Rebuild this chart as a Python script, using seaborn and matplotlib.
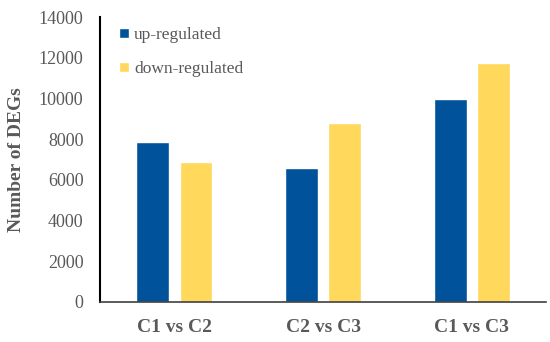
import matplotlib.pyplot as plt
import seaborn as sns
import pandas as pd

comparisons = ["C1 vs C2", "C2 vs C3", "C1 vs C3"]
up_regulated = [7880, 6600, 9980]
down_regulated = [6900, 8820, 11720]

data = pd.DataFrame({
    "Comparison": comparisons * 2,
    "Regulation": ["up-regulated"] * 3 + ["down-regulated"] * 3,
    "DEGs": up_regulated + down_regulated,
})

sns.set_style("white")
plt.rcParams["font.family"] = ["Liberation Serif", "DejaVu Serif"]

gray = "#595959"
fig = plt.figure(figsize=(5.5, 3.42), dpi=100)
ax = fig.add_axes([0.182, 0.117, 0.811, 0.833])

sns.barplot(data=data, x="Comparison", y="DEGs", hue="Regulation",
            palette=["#00539B", "#FFD85C"], width=0.58, gap=0.24,
            saturation=1, ax=ax)

ax.set_ylim(0, 14000)
ax.set_xlim(-0.5, 2.5)
ax.set_yticks(range(0, 14001, 2000))
ax.set_xlabel("")
ax.set_ylabel("Number of DEGs", fontsize=14, fontweight="bold", color=gray, labelpad=10)
ax.tick_params(axis="y", labelsize=13, labelcolor=gray, length=0, pad=12)
ax.tick_params(axis="x", labelsize=14, labelcolor=gray, length=0, pad=12)
for lab in ax.get_xticklabels():
    lab.set_fontweight("bold")

for side in ["top", "right"]:
    ax.spines[side].set_visible(False)
ax.spines["left"].set_color("black")
ax.spines["left"].set_linewidth(1.5)
ax.spines["bottom"].set_color("#404040")
ax.spines["bottom"].set_linewidth(1.2)

leg = ax.legend(loc="upper left", bbox_to_anchor=(0.008, 1.02), frameon=False,
                fontsize=12.5, handlelength=0.55, handleheight=0.55,
                handletextpad=0.3, labelspacing=1.05, labelcolor=gray)

fig.savefig("out.png", dpi=100)
